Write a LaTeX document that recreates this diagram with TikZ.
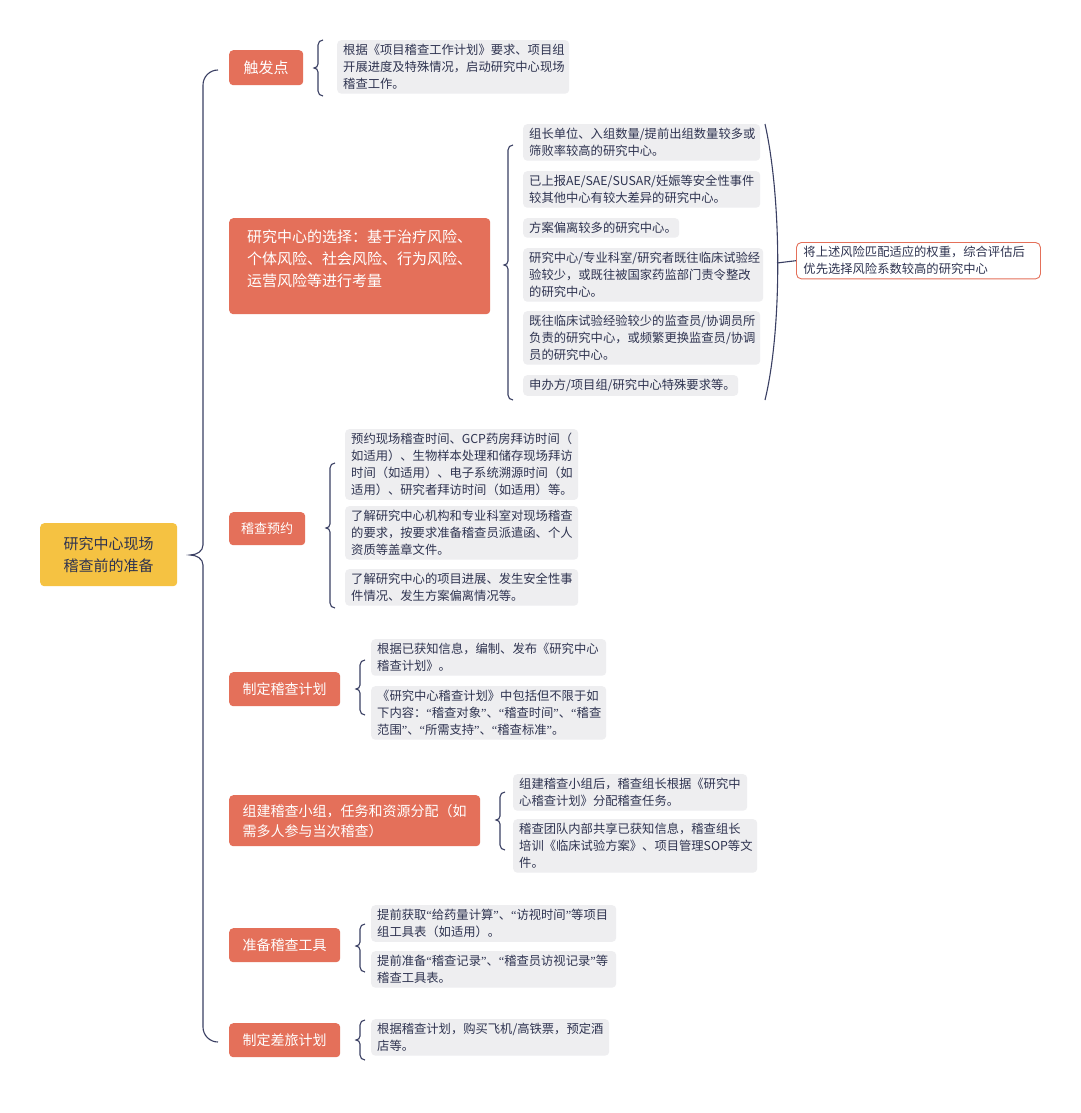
\documentclass[tikz,border=0pt]{standalone}
\usepackage{fontspec}
\setmainfont{Noto Sans CJK SC}
\newfontfamily\qfont{Liberation Serif}
\newcommand\qq[1]{{\qfont “}#1{\qfont ”}}
\definecolor{org}{HTML}{E4705A}
\definecolor{yel}{HTML}{F5C242}
\definecolor{lf}{HTML}{EEEEF0}
\definecolor{txt}{HTML}{2E3350}
\definecolor{ln}{HTML}{3A3F63}
\newcommand\mybr[4]{\draw[brc] ({#1+5},{-(#2)}) to[out=180,in=90] ({#1},{-(#2)-5}) -- ({#1},{-(#3)+4}) to[out=-90,in=0] ({#1-4},{-(#3)}) to[out=0,in=90] ({#1},{-(#3)-4}) -- ({#1},{-(#4)+5}) to[out=-90,in=180] ({#1+5},{-(#4)});}
\tikzset{
 brc/.style={draw=ln,line width=1.1pt},
 leaf/.style={fill=lf,rounded corners=4pt,anchor=north west,align=left,inner xsep=6pt,inner ysep=4pt,text=txt,font=\fontsize{12.3}{17}\selectfont},
 br/.style={fill=org,rounded corners=4pt,anchor=north west,align=left,text=white,inner xsep=12pt,inner ysep=0pt,font=\fontsize{14}{20}\selectfont},
}
\begin{document}
\begin{tikzpicture}[x=1pt,y=1pt]
\useasboundingbox[fill=white] (0,0) rectangle (1080,-1113);
% root
\node[fill=yel,rounded corners=4pt,minimum width=137pt,minimum height=63pt,align=center,text=txt,font=\fontsize{15}{22}\selectfont,anchor=north west] (root) at (40,-523) {研究中心现场\\稽查前的准备};
% main brace
\draw[brc] (218,-70) to[out=180,in=90] (203,-85) -- (203,-545) to[out=-90,in=0] (190,-555) to[out=0,in=90] (203,-565) -- (203,-1027) to[out=-90,in=180] (218,-1042);
% branch 1
\node[br,minimum width=74pt,minimum height=35pt,font=\fontsize{15}{20}\selectfont] (b1) at (229,-50) {触发点};
\mybr{318}{40}{68}{96}
\node[leaf,text width=220pt] (l1) at (337,-40) {根据《项目稽查工作计划》要求、项目组\\开展进度及特殊情况，启动研究中心现场\\稽查工作。};
% branch 2
\node[br,minimum width=261pt,minimum height=96pt,anchor=north west,font=\fontsize{15}{22}\selectfont] (b2) at (229,-218) {研究中心的选择：基于治疗风险、\\个体风险、社会风险、行为风险、\\运营风险等进行考量\\[-6pt]\mbox{}};
\mybr{508}{145}{265}{400}
\node[leaf,text width=225pt] (l2a) at (523,-124) {组长单位、入组数量/提前出组数量较多或\\筛败率较高的研究中心。};
\node[leaf,text width=225pt] (l2b) at (523,-171) {已上报AE/SAE/SUSAR/妊娠等安全性事件\\较其他中心有较大差异的研究中心。};
\node[leaf,text width=144pt] (l2c) at (523,-218) {方案偏离较多的研究中心。};
\node[leaf,text width=228pt] (l2d) at (523,-248) {研究中心/专业科室/研究者既往临床试验经\\验较少，或既往被国家药监部门责令整改\\的研究中心。};
\node[leaf,text width=225pt] (l2e) at (523,-311) {既往临床试验经验较少的监查员/协调员所\\负责的研究中心，或频繁更换监查员/协调\\员的研究中心。};
\node[leaf,text width=203pt] (l2f) at (523,-375) {申办方/项目组/研究中心特殊要求等。};
\node[draw=org,line width=0.9pt,fill=white,rounded corners=5pt,anchor=north west,align=left,text=txt,font=\fontsize{12.3}{17}\selectfont,text width=230pt,inner xsep=7pt,inner ysep=4pt] (sum) at (796,-242) {将上述风险匹配适应的权重，综合评估后\\优先选择风险系数较高的研究中心};
\draw[brc] (765,-124) .. controls (782,-200) and (782,-330) .. (765,-400);
\coordinate (pt) at (777,-263);
\draw[brc] (pt) -- (sum.west);
% branch 3
\node[br,minimum width=69pt,minimum height=33pt,font=\fontsize{13}{20}\selectfont] (b3) at (229,-512) {稽查预约};
\mybr{330}{463}{528}{608}
\node[leaf,text width=221pt] (l3a) at (345,-429) {预约现场稽查时间、GCP药房拜访时间（\\如适用）、生物样本处理和储存现场拜访\\时间（如适用）、电子系统溯源时间（如\\适用）、研究者拜访时间（如适用）等。};
\node[leaf,text width=221pt] (l3b) at (345,-506) {了解研究中心机构和专业科室对现场稽查\\的要求，按要求准备稽查员派遣函、个人\\资质等盖章文件。};
\node[leaf,text width=221pt] (l3c) at (345,-569) {了解研究中心的项目进展、发生安全性事\\件情况、发生方案偏离情况等。};
% branch 4
\node[br,minimum width=111pt,minimum height=34pt] (b4) at (229,-672) {制定稽查计划};
\mybr{360}{660}{689}{715}
\node[leaf,text width=223pt] (l4a) at (371,-639) {根据已获知信息，编制、发布《研究中心\\稽查计划》。};
\node[leaf,text width=223pt] (l4b) at (371,-686) {《研究中心稽查计划》中包括但不限于如\\下内容：\qq{稽查对象}、\qq{稽查时间}、\qq{稽查\\范围}、\qq{所需支持}、\qq{稽查标准}。};
% branch 5
\node[br,minimum width=251pt,minimum height=51pt] (b5) at (229,-795) {组建稽查小组，任务和资源分配（如\\需多人参与当次稽查）};
\mybr{500}{792}{820}{850}
\node[leaf,text width=222pt] (l5a) at (513,-774) {组建稽查小组后，稽查组长根据《研究中\\心稽查计划》分配稽查任务。};
\node[leaf,text width=232pt] (l5b) at (513,-819) {稽查团队内部共享已获知信息，稽查组长\\培训《临床试验方案》、项目管理SOP等文\\件。};
% branch 6
\node[br,minimum width=111pt,minimum height=34pt] (b6) at (229,-928) {准备稽查工具};
\mybr{360}{924}{946}{972}
\node[leaf,text width=233pt] (l6a) at (371,-905) {提前获取\qq{给药量计算}、\qq{访视时间}等项目\\组工具表（如适用）。};
\node[leaf,text width=233pt] (l6b) at (371,-951) {提前准备\qq{稽查记录}、\qq{稽查员访视记录}等\\稽查工具表。};
% branch 7
\node[br,minimum width=111pt,minimum height=34pt] (b7) at (229,-1023) {制定差旅计划};
\mybr{360}{1020}{1040}{1060}
\node[leaf,text width=226pt] (l7) at (371,-1019) {根据稽查计划，购买飞机/高铁票，预定酒\\店等。};
\end{tikzpicture}
\end{document}
